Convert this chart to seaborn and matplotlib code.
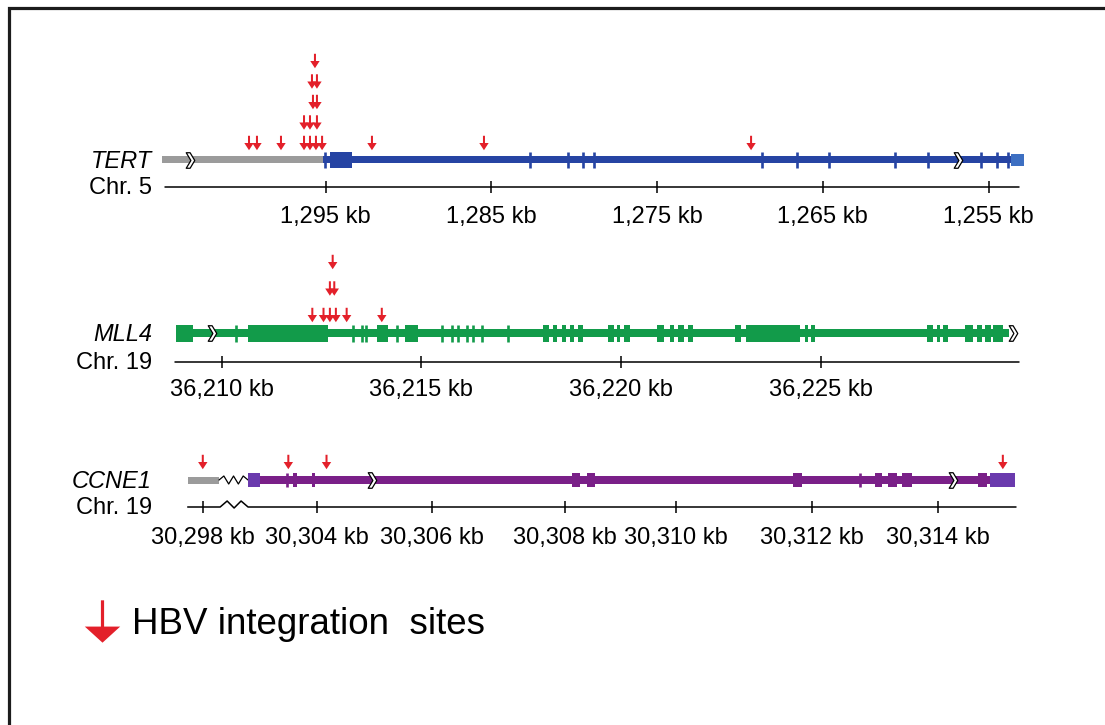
import numpy as np
import pandas as pd
import matplotlib
matplotlib.use("Agg")
import matplotlib.pyplot as plt
from matplotlib.path import Path
from matplotlib.markers import MarkerStyle
from matplotlib.lines import Line2D
import seaborn as sns

# ---------------- data (all positions in kb) ----------------
# TERT, chr 5 (minus strand, axis runs high -> low)
tert_ticks = [1295, 1285, 1275, 1265, 1255]
tert_tick_labels = ["1,295 kb", "1,285 kb", "1,275 kb", "1,265 kb", "1,255 kb"]
tert_span = [1304.70, 1253.16]
tert_promoter = [1304.88, 1295.16]
tert_gene = [1295.16, 1253.64]
tert_exons = [(1294.75, 1293.40)]
tert_exon_marks = [1295.05, 1282.67, 1280.38, 1279.47, 1278.81, 1268.67, 1266.56,
                   1264.63, 1260.64, 1258.65, 1255.45, 1254.49, 1253.82]
tert_last_exon = (1253.64, 1252.86)
tert_strand = [1303.19, 1256.84]
tert_hbv = [1299.63, 1299.15, 1297.70, 1296.31, 1295.95, 1295.59, 1295.22, 1292.21,
            1285.45, 1269.33,
            1296.31, 1295.95, 1295.53,
            1295.77, 1295.53,
            1295.83, 1295.53,
            1295.65]
tert_hbv_level = [0, 0, 0, 0, 0, 0, 0, 0, 0, 0, 1, 1, 1, 2, 2, 3, 3, 4]

# MLL4, chr 19
mll4_ticks = [36210, 36215, 36220, 36225]
mll4_tick_labels = ["36,210 kb", "36,215 kb", "36,220 kb", "36,225 kb"]
mll4_span = [36208.83, 36229.98]
mll4_gene = [36208.85, 36229.72]
mll4_exons = [(36208.85, 36209.28), (36210.66, 36212.66), (36213.89, 36214.17),
              (36214.59, 36214.92), (36218.05, 36218.20), (36218.30, 36218.40),
              (36218.53, 36218.63), (36218.73, 36218.83), (36218.93, 36219.05),
              (36219.68, 36219.83), (36219.90, 36219.98), (36220.08, 36220.23),
              (36220.91, 36221.09), (36221.24, 36221.32), (36221.44, 36221.59),
              (36221.69, 36221.81), (36222.86, 36223.01), (36223.14, 36224.49),
              (36224.62, 36224.69), (36224.77, 36224.85), (36227.68, 36227.83),
              (36227.93, 36228.00), (36228.08, 36228.20), (36228.63, 36228.83),
              (36228.93, 36229.05), (36229.13, 36229.26), (36229.33, 36229.58)]
mll4_exon_marks = [36210.36, 36213.29, 36213.52, 36213.62, 36214.39, 36215.52, 36215.77,
                   36215.92, 36216.15, 36216.30, 36216.52, 36217.18]
mll4_strand = [36209.76, 36229.81]
mll4_hbv = [36212.27, 36212.55, 36212.71, 36212.86, 36213.13, 36214.01,
            36212.71, 36212.82, 36212.78]
mll4_hbv_level = [0, 0, 0, 0, 0, 0, 1, 1, 2]

# CCNE1, chr 19 (broken axis between 30,298 and 30,304 kb)
ccne1_ticks = [30298, 30304, 30306, 30308, 30310, 30312, 30314]
ccne1_tick_labels = ["30,298 kb", "30,304 kb", "30,306 kb", "30,308 kb",
                     "30,310 kb", "30,312 kb", "30,314 kb"]
ccne1_span = [30297.21, 30315.25]
ccne1_axis_break = [30298.91, 30300.37]
ccne1_upstream = [30297.23, 30298.85]
ccne1_gene_break = [30298.85, 30300.37]
ccne1_gene = [30300.37, 30314.83]
ccne1_utr = [(30300.37, 30301.00), (30314.83, 30315.23)]
ccne1_exons = [(30302.73, 30302.94), (30303.72, 30303.88), (30308.13, 30308.27),
               (30308.40, 30308.54), (30311.72, 30311.85), (30313.00, 30313.11),
               (30313.21, 30313.35), (30313.43, 30313.59), (30314.64, 30314.79)]
ccne1_exon_marks = [30302.41, 30312.76]
ccne1_strand = [30304.96, 30314.24]
ccne1_hbv = [30298.00, 30302.48, 30304.16, 30315.04]
ccne1_hbv_level = [0, 0, 0, 0]

# ---------------- style ----------------
RED = "#e3202a"
GREY = "#9b9b9b"
BLUE = "#2644a3"
BLUE_LIGHT = "#3d6fc2"
GREEN = "#129b4a"
PURPLE = "#7a2088"
PURPLE_LIGHT = "#6a3aad"

sns.set_style("white")
plt.rcParams["font.family"] = ["Liberation Sans", "DejaVu Sans"]
plt.rcParams["text.color"] = "black"
plt.rcParams["patch.edgecolor"] = "none"

W, H = 1105, 725


def arrow_marker(head_w, head_h, stem_w):
    v = [(-stem_w / 2, 1), (stem_w / 2, 1), (stem_w / 2, -1 + head_h),
         (head_w / 2, -1 + head_h), (0, -1), (-head_w / 2, -1 + head_h),
         (-stem_w / 2, -1 + head_h), (-stem_w / 2, 1)]
    return MarkerStyle(Path(v, closed=True))


chevron = MarkerStyle(Path([(-0.55, 1), (-0.05, 1), (0.55, 0), (-0.05, -1),
                            (-0.55, -1), (0.05, 0), (-0.55, 1)], closed=True))
site_arrow = arrow_marker(1.3, 1.0, 0.28)
legend_arrow = arrow_marker(1.67, 0.76, 0.15)


def make_axes(fig, x0_px, x1_px, axis_px, top_px):
    ax = fig.add_axes([x0_px / W, 1 - axis_px / H, (x1_px - x0_px) / W, (axis_px - top_px) / H])
    ax.set_ylim(0, axis_px - top_px)
    for s in ax.spines.values():
        s.set_visible(False)
    ax.set_yticks([])
    ax.patch.set_alpha(0)
    return ax


def bar(ax, a, b, y, h, color, z=2):
    lo, hi = min(a, b), max(a, b)
    ax.broken_barh([(lo, hi - lo)], (y - h / 2, h), facecolors=color,
                   edgecolors="none", linewidth=0, clip_on=False, zorder=z)


def draw_gene(ax, gene_y, exons, marks, strand, hbv, levels, color, exon_h,
              tip0, step):
    for a, b in exons:
        bar(ax, a, b, gene_y, exon_h, color, z=3)
    ax.vlines(marks, gene_y - exon_h / 2, gene_y + exon_h / 2, colors=color,
              linewidth=1.9, zorder=3, clip_on=False)
    sns.scatterplot(x=strand, y=[gene_y] * len(strand), marker=chevron, s=125,
                    color="white", edgecolor="black", linewidth=0.9, zorder=4,
                    clip_on=False, legend=False, ax=ax)
    sites = pd.DataFrame({"kb": hbv, "level": levels})
    sites["y"] = gene_y + tip0 + step * sites["level"] + 7
    sns.scatterplot(data=sites, x="kb", y="y", marker=site_arrow, s=108, color=RED,
                    edgecolor="none", linewidth=0, zorder=5, clip_on=False,
                    legend=False, ax=ax)
    ax.set_xlabel("")
    ax.set_ylabel("")


def finish_axis(ax, ticks, labels, span, pad):
    ax.set_xticks(ticks, labels)
    ax.tick_params(axis="x", direction="inout", length=8, width=1.1, pad=pad,
                   labelsize=17, colors="black", bottom=True)
    ax.set_xlim(span[0], span[1])


fig = plt.figure(figsize=(W / 100, H / 100), dpi=100)

# background: frame
bg = fig.add_axes([0, 0, 1, 1], zorder=-1)
bg.set_xlim(0, W)
bg.set_ylim(H, 0)
bg.axis("off")
bg.plot([8.5, 8.5, W], [H, 7.5, 7.5], color="#1c1c1c", linewidth=2.3,
        solid_joinstyle="miter")

# ---- TERT ----
ax1 = make_axes(fig, 165, 1019, 187, 45)
g = 27
bar(ax1, *tert_promoter, g, 7, GREY)
bar(ax1, *tert_gene, g, 7, BLUE)
bar(ax1, *tert_last_exon, g, 12, BLUE_LIGHT, z=3)
draw_gene(ax1, g, tert_exons, tert_exon_marks, tert_strand, tert_hbv, tert_hbv_level,
          BLUE, 16, 10, 20.5)
ax1.plot(tert_span, [0, 0], color="black", linewidth=1.1, clip_on=False)
finish_axis(ax1, tert_ticks, tert_tick_labels, tert_span, 9.5)

# ---- MLL4 ----
ax2 = make_axes(fig, 175, 1019.3, 362, 245)
g = 29
bar(ax2, *mll4_gene, g, 8, GREEN)
draw_gene(ax2, g, mll4_exons, mll4_exon_marks, mll4_strand, mll4_hbv, mll4_hbv_level,
          GREEN, 17, 11, 26.5)
ax2.plot(mll4_span, [0, 0], color="black", linewidth=1.1, clip_on=False)
finish_axis(ax2, mll4_ticks, mll4_tick_labels, mll4_span, 8.2)

# ---- CCNE1 ----
ax3 = make_axes(fig, 187.7, 1016, 507, 450)
tick_px = [202.7, 317.3, 431.7, 565, 676, 812.3, 937.7]  # broken, uneven axis as drawn
kb_ext = [ccne1_ticks[0] - 20] + ccne1_ticks + [ccne1_ticks[-1] + 20]
px_ext = ([tick_px[0] - 20 * (tick_px[1] - tick_px[0]) / 6] + tick_px
          + [tick_px[-1] + 20 * (tick_px[-1] - tick_px[-2]) / 2])
ax3.set_xscale("function", functions=(lambda v: np.interp(v, kb_ext, px_ext),
                                      lambda p: np.interp(p, px_ext, kb_ext)))
g = 27
bar(ax3, *ccne1_upstream, g, 7, GREY)
bar(ax3, *ccne1_gene, g, 8, PURPLE)
for a, b in ccne1_utr:
    bar(ax3, a, b, g, 14, PURPLE_LIGHT, z=3)
zx = np.linspace(ccne1_gene_break[0], ccne1_gene_break[1], 7)
ax3.plot(zx, g + np.array([0, 4, -4, 4, -4, 4, 0]), color="black", linewidth=0.9,
         clip_on=False)
draw_gene(ax3, g, ccne1_exons, ccne1_exon_marks, ccne1_strand, ccne1_hbv, ccne1_hbv_level,
          PURPLE, 14, 11, 20)
bx = np.linspace(ccne1_axis_break[0], ccne1_axis_break[1], 5)
ax3.plot([ccne1_span[0]] + list(bx) + [ccne1_span[1]],
         [0, 0, 6, -1, 6, 0, 0], color="black", linewidth=1.1, clip_on=False)
finish_axis(ax3, ccne1_ticks, ccne1_tick_labels, ccne1_span, 10.5)

# gene / chromosome labels
for name, gene_px, chrom, axis_px in [("TERT", 160, "Chr. 5", 187),
                                      ("MLL4", 333, "Chr. 19", 362),
                                      ("CCNE1", 480, "Chr. 19", 507)]:
    fig.text(152 / W, 1 - (gene_px + 8) / H, name, ha="right", va="baseline",
             style="italic", fontsize=17)
    fig.text(152 / W, 1 - (axis_px + 7) / H, chrom, ha="right", va="baseline",
             fontsize=17)

handle = Line2D([], [], linestyle="none", marker=legend_arrow, markersize=30.5,
                color=RED, markeredgewidth=0)
fig.legend(handles=[handle], labels=["HBV integration  sites"], loc="center left",
           bbox_to_anchor=(83.6 / W, 1 - 624 / H), frameon=False, fontsize=26.5,
           handlelength=0.98, handletextpad=0.33, borderpad=0, borderaxespad=0)

fig.savefig("out.png", dpi=100)
